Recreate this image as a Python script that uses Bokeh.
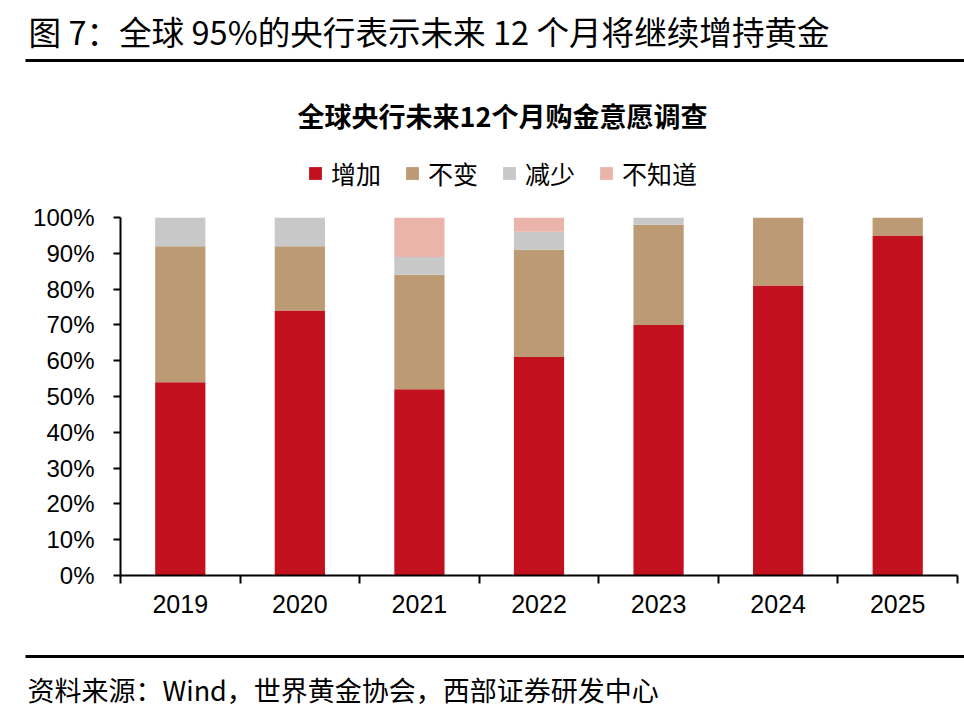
from bokeh.plotting import figure
from bokeh.layouts import column
from bokeh.models import (ColumnDataSource, Range1d, FixedTicker, Label,
                          Legend, LegendItem)
from bokeh.embed import file_html
from bokeh.resources import INLINE

# ---- data ----
years = ["2019", "2020", "2021", "2022", "2023", "2024", "2025"]
increase = [54, 74, 52, 61, 70, 81, 95]
unchanged = [38, 18, 32, 30, 28, 19, 5]
decrease = [8, 8, 5, 5, 2, 0, 0]
unknown = [0, 0, 11, 4, 0, 0, 0]
series_names = ["增加", "不变", "减少", "不知道"]
y_ticks = [0, 10, 20, 30, 40, 50, 60, 70, 80, 90, 100]
y_tick_labels = ["0%", "10%", "20%", "30%", "40%", "50%", "60%", "70%", "80%", "90%", "100%"]
title_text = "图 7：全球 95%的央行表示未来 12 个月将继续增持黄金"
chart_title = "全球央行未来12个月购金意愿调查"
footer_text = "资料来源：Wind，世界黄金协会，西部证券研发中心"

colors = ["#C2101E", "#BC9A74", "#C8C8C8", "#EAB4AA"]
CJK = "Noto Sans CJK SC"

W = 964
H_TOP, H_MAIN, H_BOT = 200, 440, 74


def blank(h):
    f = figure(width=W, height=h, output_backend="svg", toolbar_location=None,
               x_range=Range1d(0, W), y_range=Range1d(h, 0),
               x_axis_type=None, y_axis_type=None, frame_align=False,
               min_border_left=0, min_border_right=0, min_border_top=0, min_border_bottom=0)
    f.outline_line_color = None
    f.xgrid.visible = False
    f.ygrid.visible = False
    return f


# ---- header: title, rule, chart title, legend ----
top = blank(H_TOP)
top.add_layout(Label(x=28, y=30, text=title_text, text_align="left",
                     text_baseline="middle", text_font=CJK,
                     text_font_size="32.6px", text_color="black"))
top.quad(left=[25], right=[W], top=[58.5], bottom=[61.5], color="black", line_color=None)
top.add_layout(Label(x=502, y=115, text=chart_title, text_align="center",
                     text_baseline="middle", text_font=CJK,
                     text_font_style="bold", text_font_size="27px", text_color="black"))
dummy = [top.vbar(x=[-1000], top=[0], bottom=[0], width=1, color=c, line_color=None)
         for c in colors]
legend = Legend(items=[LegendItem(label=n, renderers=[r], index=0)
                       for n, r in zip(series_names, dummy)],
                orientation="horizontal", location=(307, H_TOP - 191),
                glyph_width=16, glyph_height=16, label_standoff=8, spacing=23,
                padding=0, margin=0, border_line_color=None, background_fill_alpha=0,
                label_text_font=CJK, label_text_font_size="25px",
                label_height=25, label_text_color="black")
top.add_layout(legend)

# ---- main chart ----
xpos = [i + 0.5 for i in range(len(years))]
source = ColumnDataSource(data={
    "x": xpos,
    "增加": increase,
    "不变": unchanged,
    "减少": decrease,
    "不知道": unknown,
})

p = figure(width=W, height=H_MAIN, output_backend="svg", toolbar_location=None,
           x_range=Range1d(0, len(years)), y_range=Range1d(0, 100), frame_align=False,
           min_border_left=120, min_border_right=7, min_border_top=17, min_border_bottom=65)
p.outline_line_color = None
p.xgrid.visible = False
p.ygrid.visible = False

p.vbar_stack(series_names, x="x", width=0.42, source=source,
             color=colors, line_color=None)

xa = p.xaxis[0]
xa.ticker = FixedTicker(ticks=xpos, minor_ticks=list(range(len(years) + 1)))
xa.major_label_overrides = {x: y for x, y in zip(xpos, years)}
xa.major_tick_out = 0
xa.major_tick_in = 0
xa.minor_tick_out = 8
xa.minor_tick_in = 0
xa.minor_tick_line_color = "black"
xa.minor_tick_line_width = 2
xa.axis_line_color = "black"
xa.axis_line_width = 2
xa.major_label_text_font = "Liberation Sans"
xa.major_label_text_font_size = "25px"
xa.major_label_text_color = "black"
xa.major_label_standoff = 11

ya = p.yaxis[0]
ya.ticker = FixedTicker(ticks=y_ticks, minor_ticks=[])
ya.major_label_overrides = {t: s for t, s in zip(y_ticks, y_tick_labels)}
ya.major_tick_out = 7
ya.major_tick_in = 0
ya.major_tick_line_color = "black"
ya.major_tick_line_width = 2
ya.minor_tick_line_color = None
ya.axis_line_color = "black"
ya.axis_line_width = 2
ya.major_label_text_font = "Liberation Sans"
ya.major_label_text_font_size = "24px"
ya.major_label_text_color = "black"
ya.major_label_standoff = 19

# ---- footer ----
bot = blank(H_BOT)
bot.quad(left=[25], right=[W], top=[14.5], bottom=[17.5], color="black", line_color=None)
bot.add_layout(Label(x=27, y=49, text=footer_text, text_align="left",
                     text_baseline="middle", text_font=CJK,
                     text_font_size="27px", text_color="black"))

layout = column(top, p, bot, spacing=0)
open("out.html", "w").write(file_html(layout, INLINE))
